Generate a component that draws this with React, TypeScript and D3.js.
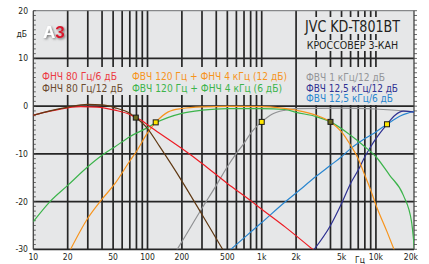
import React from 'react';
import { scaleLog, scaleLinear, line, curveMonotoneX } from 'd3';

// frequency responses (Hz / dB)
const redFreq = [10, 14, 20, 26, 36, 52, 70, 79, 86, 100, 116, 200, 300, 500, 800, 1000, 1600, 2850];
const redDb = [-1.9, -1.05, -0.35, -0.1, -0.2, -0.85, -1.75, -2.4, -2.8, -3.9, -5.0, -8.9, -12.0, -16.2, -19.8, -21.6, -25.3, -30.2];

const brownFreq = [10, 14, 20, 30, 40, 52, 70, 79, 100, 128, 200, 300, 460];
const brownDb = [-1.9, -1.0, -0.2, 0.35, 0.25, -0.35, -1.5, -2.4, -4.7, -8.5, -15.7, -22.7, -30.2];

const orangeFreq = [21, 30, 40, 52, 70, 80, 100, 118, 152, 200, 300, 500, 1000, 1440, 2000, 3000, 4000, 5000, 6000, 7000, 8000, 9000, 10000, 12500, 14500];
const orangeDb = [-30.2, -23.5, -19.5, -16.2, -11.5, -9.5, -5.6, -3.4, -1.2, -0.5, -0.15, -0.05, -0.1, -0.35, -0.84, -1.9, -3.3, -5.4, -8.2, -11, -14.5, -17.6, -20.7, -26.3, -30.2];

const greenFreq = [10, 14, 20, 30, 40, 52, 70, 100, 118, 200, 300, 500, 1000, 1600, 2000, 3000, 4000, 6000, 8000, 10000, 13200, 17400, 20500, 21800];
const greenDb = [-24.2, -20, -16.6, -12.7, -10.3, -8.5, -6.4, -4.5, -3.5, -1.5, -0.84, -0.5, -0.5, -0.7, -1.3, -2.2, -3.3, -6.1, -8.5, -10.6, -14.5, -18.7, -24.2, -30.2];

const grayFreq = [180, 200, 300, 400, 500, 600, 700, 800, 900, 1000, 1230, 1600, 2000, 5000, 10000, 21800];
const grayDb = [-30.2, -28.4, -21.4, -16.6, -12.7, -9.9, -7.8, -5.7, -4.3, -3.3, -1.7, -0.84, -0.5, -0.4, -0.6, -1.2];

const navyFreq = [2840, 4000, 5000, 6000, 7000, 8000, 9000, 10000, 12500, 14700, 17400, 21800];
const navyDb = [-30.2, -25, -20.4, -16.2, -13.4, -10.6, -8.5, -6.8, -3.8, -1.9, -1.05, -1.3];

const blueFreq = [526, 700, 1000, 1600, 2000, 3000, 4000, 5000, 6000, 8000, 10000, 12500, 16500, 21800];
const blueDb = [-30.2, -27.6, -24.4, -20.1, -18.2, -14.7, -12.4, -10.6, -8.9, -6.8, -5.4, -3.8, -2, -1.05];

// crossover points
const markerFreq = [79, 118, 1000, 4000, 12500];
const markerDb = [-2.4, -3.4, -3.3, -3.3, -3.8];

const gridFreqs = [20, 30, 40, 50, 60, 70, 80, 90, 100, 200, 300, 400, 500, 600, 700, 800, 900, 1000, 2000, 3000, 4000, 5000, 6000, 7000, 8000, 9000, 10000];
const gridDbs = [10, 0, -10, -20];
const xTickValues = [10, 20, 50, 100, 200, 500, 1000, 2000, 5000, 10000, 20000];
const xTickLabels = ['10', '20', '50', '100', '200', '500', '1k', '2k', '5k', '10k', '20k'];
const yTickValues = [20, 10, 0, -10, -20, -30];

const legendLeft = ['ФНЧ 80 Гц/6 дБ', 'ФНЧ 80 Гц/12 дБ'];
const legendMid = ['ФВЧ 120 Гц + ФНЧ 4 кГц (12 дБ)', 'ФВЧ 120 Гц + ФНЧ 4 кГц (6 дБ)'];
const legendRight = ['ФВЧ 1 кГц/12 дБ', 'ФВЧ 12,5 кГц/12 дБ', 'ФВЧ 12,5 кГц/6 дБ'];

const font = "'Liberation Sans Narrow', 'DejaVu Sans Condensed', Roboto, sans-serif";

const App = () => {
    const svgWidth = 429;
    const svgHeight = 264;
    const left = 33.3, right = 414, top = 10.7, bottom = 249.3;
    const bg = '#e6e7e8';

    const x = scaleLog().domain([10, 20000]).range([left, 410.3]);
    const y = scaleLinear().domain([-30, 20]).range([bottom, top]);

    const linefunc = line<[number, number]>().x(d => x(d[0])).y(d => y(d[1])).curve(curveMonotoneX);
    const zip = (f: number[], v: number[]) => f.map((d, i) => [d, v[i]] as [number, number]);

    const curves = [
        { key: 'gray', color: '#909193', d: zip(grayFreq, grayDb) },
        { key: 'blue', color: '#2a86cf', d: zip(blueFreq, blueDb) },
        { key: 'navy', color: '#2e3192', d: zip(navyFreq, navyDb) },
        { key: 'green', color: '#3cb44b', d: zip(greenFreq, greenDb) },
        { key: 'orange', color: '#f7941d', d: zip(orangeFreq, orangeDb) },
        { key: 'red', color: '#ed1c24', d: zip(redFreq, redDb) },
        { key: 'brown', color: '#603913', d: zip(brownFreq, brownDb) },
    ];

    const minor: number[] = [];
    for (let v = -30; v <= 20; v++) minor.push(v);

    const fit = { lengthAdjust: 'spacingAndGlyphs' as const };

    return (
        <svg width={svgWidth} height={svgHeight} style={{ position: 'absolute', left: 0, top: 0, background: '#fff' }} fontFamily={font}>
            <defs>
                <clipPath id="plot">
                    <rect x={left} y={top} width={right - left} height={bottom - top} />
                </clipPath>
                <filter id="shadow" x="-20%" y="-20%" width="150%" height="150%">
                    <feDropShadow dx="1.2" dy="1.2" stdDeviation="0.9" floodColor="#555" floodOpacity="0.8" />
                </filter>
            </defs>
            <rect x={left} y={top} width={right - left} height={bottom - top} fill={bg} />

            {/* grid */}
            <g stroke="#262626" strokeWidth={1.7}>
                {gridFreqs.map(f => <line key={f} x1={x(f)} x2={x(f)} y1={top} y2={bottom} />)}
                {gridDbs.map(v => <line key={v} x1={left} x2={right} y1={y(v)} y2={y(v)} />)}
                <line x1={left} x2={right} y1={bottom} y2={bottom} />
            </g>
            <line x1={left} x2={right} y1={top} y2={top} stroke="#6d6e70" strokeWidth={1} />
            <line x1={left} x2={left} y1={top} y2={bottom} stroke="#444" strokeWidth={1.3} />
            <line x1={right} x2={right} y1={top} y2={bottom} stroke="#444" strokeWidth={1.3} />
            <g stroke="#444" strokeWidth={0.8}>
                {minor.map(v => <line key={'l' + v} x1={left} x2={left + 2.5} y1={y(v)} y2={y(v)} />)}
                {minor.map(v => <line key={'r' + v} x1={right} x2={right + 3} y1={y(v)} y2={y(v)} />)}
            </g>

            {/* boxes behind the texts */}
            <g fill={bg}>
                <rect x={37} y={67} width={255} height={28} />
                <rect x={301} y={67} width={100} height={38} />
                <rect x={301} y={17} width={100} height={17} />
                <rect x={301} y={40} width={100} height={11} />
            </g>

            {/* curves */}
            <g clipPath="url(#plot)" fill="none" strokeWidth={1.2} strokeLinejoin="round">
                {curves.map(c => <path key={c.key} d={linefunc(c.d)} stroke={c.color} />)}
            </g>
            {markerFreq.map((f, i) => (
                <rect key={f} x={x(f) - 2.5} y={y(markerDb[i]) - 2.5} width={5} height={5}
                    fill={i === 0 || i === 3 ? '#6b6a1c' : '#ffe600'} stroke="#1a1a1a" strokeWidth={1} />
            ))}

            {/* axis labels */}
            <g fontSize={8.5} fill="#231f20">
                {yTickValues.map(v => <text key={v} x={28} y={y(v) + 3} textAnchor="end">{v}</text>)}
                <text x={27} y={37} textAnchor="end">дБ</text>
                {xTickValues.map((v, i) => (
                    <text key={v} x={i === xTickValues.length - 1 ? 418 : x(v)} y={259.5}
                        textAnchor={i === xTickValues.length - 1 ? 'end' : 'middle'}>{xTickLabels[i]}</text>
                ))}
                <text x={360} y={263} textAnchor="middle">Гц</text>
            </g>

            {/* logo */}
            <text x={43} y={38} fontSize={17} fontWeight="bold" fontFamily="'Liberation Sans', Arial, sans-serif" filter="url(#shadow)">
                <tspan fill="#ffffff">А</tspan><tspan fill="#d7192d">3</tspan>
            </text>

            {/* legends */}
            <g fontSize={10.5}>
                <text x={42} y={80} fill="#ec3a43" textLength={75} {...fit}>{legendLeft[0]}</text>
                <text x={42} y={91.5} fill="#6b4a2e" textLength={81} {...fit}>{legendLeft[1]}</text>
                <text x={132} y={80} fill="#f7941d" textLength={155} {...fit}>{legendMid[0]}</text>
                <text x={132} y={91.5} fill="#3cb44b" textLength={150} {...fit}>{legendMid[1]}</text>
            </g>
            <g fontSize={10}>
                <text x={306} y={81} fill="#939598" textLength={79} {...fit}>{legendRight[0]}</text>
                <text x={306} y={91.5} fill="#2e3192" textLength={92} {...fit}>{legendRight[1]}</text>
                <text x={306} y={102} fill="#2a86cf" textLength={87} {...fit}>{legendRight[2]}</text>
            </g>

            <text x={305} y={31.7} fontSize={16} fill="#231f20" textLength={95} {...fit}>JVC KD-T801BT</text>
            <text x={306.7} y={49.3} fontSize={10.5} fill="#231f20" textLength={91.5} {...fit}>КРОССОВЕР 3-КАН</text>
        </svg>
    );
}

export default App;
